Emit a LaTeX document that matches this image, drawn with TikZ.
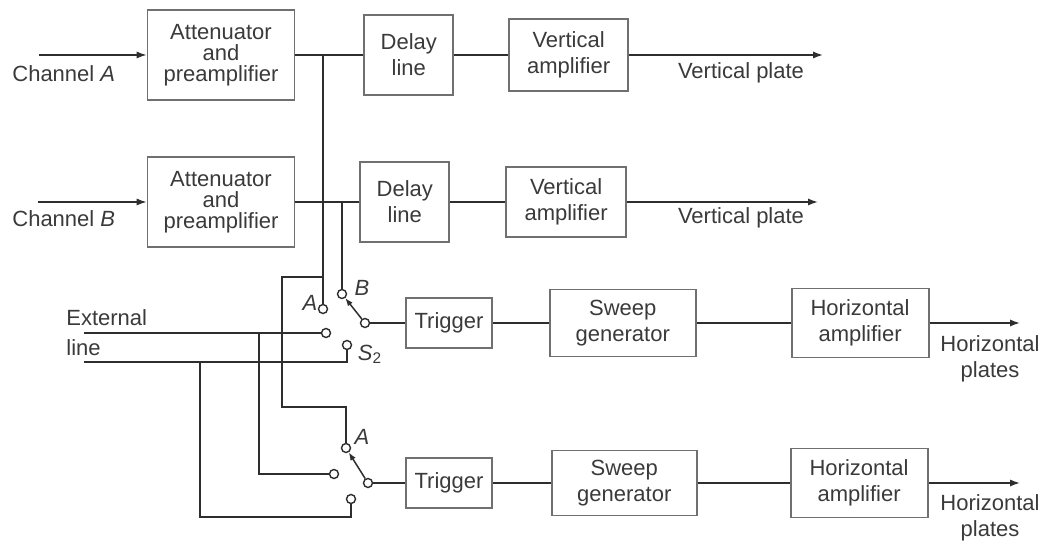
\documentclass[tikz,border=0pt]{standalone}
\usepackage{fontspec}
\setmainfont{Liberation Sans}
\usetikzlibrary{arrows.meta,positioning}
\definecolor{BoxGray}{HTML}{707070}
\definecolor{WireInk}{HTML}{2E2E2E}
\definecolor{TextInk}{HTML}{3A3A3A}

\begin{document}
\begin{tikzpicture}[x=0.5pt,y=-0.5pt,
  blk/.style={draw=BoxGray,line width=0.9pt,align=center,inner sep=0pt,text=TextInk,
    font=\fontsize{11}{13}\selectfont},
  wire/.style={draw=WireInk,line width=0.75pt},
  sig/.style={wire,-{Latex[length=5pt,width=3.6pt]}},
  arm/.style={wire,-{Latex[length=4pt,width=3pt]}},
  cnt/.style={circle,draw=WireInk,line width=0.7pt,fill=white,inner sep=0pt,minimum size=4.5pt},
  lbl/.style={font=\fontsize{11}{13}\selectfont,align=center,inner sep=0pt,text=TextInk}]
\useasboundingbox (0,0) rectangle (1044,545);

% channel A
\node[blk,minimum width=73.5pt,minimum height=45pt,font=\fontsize{11}{10.4}\selectfont] (att1) at (221,55) {Attenuator\\and\\preamplifier};
\node[blk,minimum width=44.5pt,minimum height=40pt,right=34pt of att1] (dly1) {Delay\\line};
\node[blk,minimum width=59.5pt,minimum height=36pt,right=27pt of dly1] (va1) {Vertical\\amplifier};

% channel B
\node[blk,minimum width=73.5pt,minimum height=45pt,font=\fontsize{11}{10.4}\selectfont] (att2) at (221,202) {Attenuator\\and\\preamplifier};
\node[blk,minimum width=44.5pt,minimum height=40pt,right=32pt of att2] (dly2) {Delay\\line};
\node[blk,minimum width=60pt,minimum height=35pt,right=27.5pt of dly2] (va2) {Vertical\\amplifier};

% time bases
\node[blk,minimum width=43pt,minimum height=25pt] (trg1) at (449,323) {Trigger};
\node[blk,minimum width=73pt,minimum height=33.5pt,right=28pt of trg1] (swp1) {Sweep\\generator};
\node[blk,minimum width=68.5pt,minimum height=34.5pt,right=47pt of swp1] (ham1) {Horizontal\\amplifier};
\node[blk,minimum width=43pt,minimum height=25pt] (trg2) at (449,483) {Trigger};
\node[blk,minimum width=72.5pt,minimum height=32.5pt,right=29pt of trg2] (swp2) {Sweep\\generator};
\node[blk,minimum width=68.5pt,minimum height=34.5pt,right=46pt of swp2] (ham2) {Horizontal\\amplifier};

% switch contacts
\node[cnt] (cA1) at (323,309) {};
\node[cnt] (cB1) at (342,294) {};
\node[cnt] (pv1) at (365,323) {};
\node[cnt] (cE1) at (326,333) {};
\node[cnt] (cL1) at (347,345) {};
\node[cnt] (cA2) at (346,448) {};
\node[cnt] (pv2) at (368,483) {};
\node[cnt] (cE2) at (334,474) {};
\node[cnt] (cL2) at (351,499) {};

% labels
\node[lbl,anchor=base west] (lchA) at (12,82) {Channel \textit{A}};
\node[lbl,anchor=base west] (lchB) at (12,227) {Channel \textit{B}};
\node[lbl] (lvp1) at (741,73) {Vertical plate};
\node[lbl] (lvp2) at (741,218) {Vertical plate};
\node[lbl] (lhp1) at (990,359) {Horizontal\\plates};
\node[lbl] (lhp2) at (990,518) {Horizontal\\plates};
\node[lbl,anchor=base west] (lext) at (66,325) {External};
\node[lbl,anchor=base west] (lline) at (66,355) {line};
\node[lbl] (lA1) at (310,303) {\textit{A}};
\node[lbl] (lB1) at (362,288) {\textit{B}};
\node[lbl] (lS2) at (370,354) {\textit{S}\textsubscript{2}};
\node[lbl] (lA2) at (362,437) {\textit{A}};

% free ends and bends
\coordinate (chA) at (39,55);
\coordinate (chB) at (38,202);
\coordinate (vpA) at (823,55);
\coordinate (vpB) at (818,202);
\coordinate (hp1) at (1020,323);
\coordinate (hp2) at (1020,483);
\coordinate (jA) at (323,55);
\coordinate (jB) at (342,202);
\coordinate (kA) at (323,277);
\coordinate (bA) at (282,407);
\coordinate (ex1) at (84,333);
\coordinate (ex2) at (84,362);
\coordinate (kE1) at (259,333);
\coordinate (kE2) at (200,362);
\coordinate (bE2) at (200,517);

% vertical channels
\draw[sig] (chA) -- (att1);
\draw[wire] (att1) -- (dly1);
\draw[wire] (dly1) -- (va1);
\draw[sig] (va1) -- (vpA);
\draw[sig] (chB) -- (att2);
\draw[wire] (att2) -- (dly2);
\draw[wire] (dly2) -- (va2);
\draw[sig] (va2) -- (vpB);

% trigger pick-offs
\draw[wire] (jA) -- (cA1);
\draw[wire] (kA) -| (bA) -| (cA2);
\draw[wire] (jB) -- (cB1);
\draw[wire] (ex1) -- (cE1);
\draw[wire] (ex2) -| (cL1);
\draw[wire] (kE1) |- (cE2);
\draw[wire] (kE2) -- (bE2) -| (cL2);

% switches and time bases
\draw[arm] (pv1) -- (cB1);
\draw[arm] (pv2) -- (cA2);
\draw[wire] (pv1) -- (trg1);
\draw[wire] (trg1) -- (swp1);
\draw[wire] (swp1) -- (ham1);
\draw[sig] (ham1) -- (hp1);
\draw[wire] (pv2) -- (trg2);
\draw[wire] (trg2) -- (swp2);
\draw[wire] (swp2) -- (ham2);
\draw[sig] (ham2) -- (hp2);
\end{tikzpicture}
\end{document}
